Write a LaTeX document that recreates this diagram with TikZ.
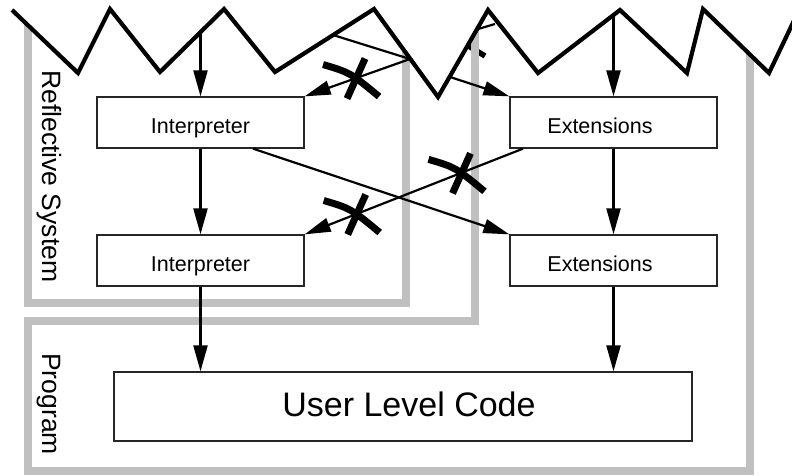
\documentclass[tikz,border=0pt]{standalone}
\usepackage{fontspec}
\setmainfont{Liberation Sans}
\usetikzlibrary{arrows.meta}
\definecolor{wallgray}{RGB}{192,192,192}

\begin{document}
\begin{tikzpicture}[x=1pt,y=-1pt,line join=miter,>={Triangle[length=26pt,width=14pt]},
  box/.style={draw=black!85,line width=1.3pt,fill=white,minimum width=207pt,minimum height=51pt,inner sep=0pt},
  link/.style={line width=2.2pt},
  wall/.style={draw=wallgray,line width=7.5pt},
  tag/.style={font=\fontsize{21.5}{24}\selectfont,inner sep=0pt},
  side/.style={font=\fontsize{26.5}{28}\selectfont,inner sep=0pt,rotate=-90,anchor=base west},
  nogo/.pic={
    \draw[line width=7pt] (-29,-15) .. controls (-2,-7) .. (27,17);
    \draw[line width=7pt] (13,-21) -- (-5,19);
  }]
  \useasboundingbox (0,0) rectangle (792,475);
  \def\ridge{(12,10) -- (78,73) -- (110,9) -- (160,72) -- (224,9) -- (275,72) -- (374,9) -- (438,97)
    -- (488,10) -- (538,73) -- (620,10) -- (687,73) -- (703,9) -- (769,73) -- (800,8)}

  % stub that runs behind the frame
  \draw[line width=5.5pt] (467,45) -- (485,56);

  % frames
  \draw[wall] (28,0) -- (28,303) -- (406,303) -- (406,0);
  \draw[wall] (475,0) -- (475,321) -- (28,321) -- (28,471) -- (750,471) -- (750,0);
  \fill[white] (-5,-5) -- \ridge -- (800,-5) -- cycle;

  \node[side] (refl) at (42,70) {Reflective System};
  \node[side] (prog) at (42,353) {Program};

  \foreach \row/\yy in {1/122.5,2/260.5}{
    \node[box] (int\row) at (200.5,\yy) {};
    \node[box] (ext\row) at (613.5,\yy) {};
    \node[tag,anchor=base] (int\row t) at ([yshift=-11pt]int\row.center) {Interpreter};
    \node[tag,anchor=base] (ext\row t) at ([xshift=-13.5pt,yshift=-11pt]ext\row.center) {Extensions};
  }
  \node[box,minimum width=578pt,minimum height=69pt] (user) at (403,406.5) {};
  \node[font=\fontsize{34}{38}\selectfont,inner sep=0pt,anchor=base] (usert) at ([xshift=6pt,yshift=-10pt]user.center) {User Level Code};

  % straight paths
  \coordinate (in1) at (200.5,33);
  \coordinate (in2) at (613.5,15);
  \draw[link,->] (in1) -- (int1);
  \draw[link,->] (in2) -- (ext1);
  \draw[link,->] (int1) -- (int2);
  \draw[link,->] (ext1) -- (ext2);
  \draw[link,->] (int2) -- (int2 |- user.north);
  \draw[link,->] (ext2) -- (ext2 |- user.north);
  \draw[link,->] ([xshift=52.5pt]int1.south) -- (ext2.north west);
  \draw[link,->] ([xshift=-90.5pt]ext1.south) -- coordinate[pos=0.3] (cut1) coordinate[pos=0.78] (cut2) (int2.north east);

  % reflected paths
  \coordinate (r1) at (333,35);
  \coordinate (b1) at (410,59);
  \draw[link,->] (r1) -- (b1) -- coordinate[pos=0.55] (cut0) (int1.north east);
  \coordinate (r2) at (495,24);
  \coordinate (b2) at (478,29);
  \coordinate (b3) at (450,77);
  \draw[link,->] (r2) -- (b2) -- (b3) -- (ext1.north west);

  \draw[line width=4.2pt] \ridge;

  \foreach \c in {cut0,cut1,cut2}
    \pic at (\c) {nogo};
\end{tikzpicture}
\end{document}
